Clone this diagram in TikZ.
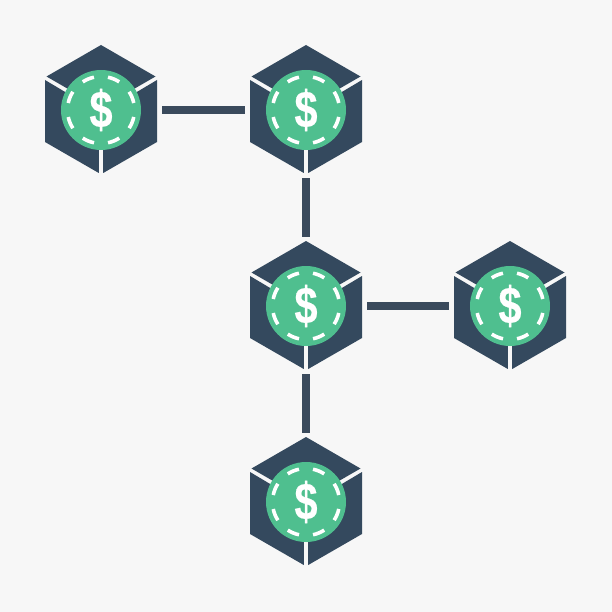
\documentclass[tikz,border=0pt]{standalone}
\usepackage{graphicx}
\usepackage{fontspec}
\setmainfont[BoldFeatures={FakeBold=0.3}]{Liberation Sans}
\definecolor{bgc}{HTML}{F7F7F7}
\definecolor{navy}{HTML}{34495E}
\definecolor{linkc}{HTML}{3A4A5C}
\definecolor{coin}{HTML}{4FBF8F}
\tikzset{
  x=1pt,y=-1pt,
  hexface/.style={fill=navy,draw=none},
  coinnode/.style={circle,fill=coin,draw=none,minimum size=80pt,inner sep=0pt,text=white,font=\fontsize{52}{52}\selectfont\bfseries},
  ringdash/.style={draw=white,line width=3.6pt,dash pattern=on 12.2pt off 14.11pt,dash phase=19.26pt},
  linkh/.style={draw=linkc,line width=7.5pt,shorten >=21pt,shorten <=21pt},
  linkv/.style={draw=linkc,line width=7.5pt,shorten >=29pt,shorten <=28pt}
}
\newcommand{\blockcoin}[3]{%
  \begin{scope}[shift={(#2,#3)}]
    \fill[hexface] (0,-65) -- (54.5,-33.5) -- (0,-2) -- (-54.5,-33.5) -- cycle;
    \fill[hexface] (-56,-30) -- (-56,32) -- (-2.2,63) -- (-2.2,2) -- cycle;
    \fill[hexface] (56,-30) -- (56,32) -- (2.2,63) -- (2.2,2) -- cycle;
  \end{scope}
  \node[coinnode] (#1) at (#2,#3) {\scalebox{0.8}[1]{\$}};
  \draw[ringdash] (#1.center) circle[radius=33.5pt];
}
\begin{document}
\begin{tikzpicture}
\useasboundingbox[fill=bgc] (0,0) rectangle (612,612);
\blockcoin{a}{101}{110}
\blockcoin{b}{306}{110}
\blockcoin{c}{306}{306}
\blockcoin{d}{510}{306}
\blockcoin{e}{306}{502}
\draw[linkh] (a) -- (b);
\draw[linkv] (b) -- (c);
\draw[linkh] (c) -- (d);
\draw[linkv] (c) -- (e);
\end{tikzpicture}
\end{document}
